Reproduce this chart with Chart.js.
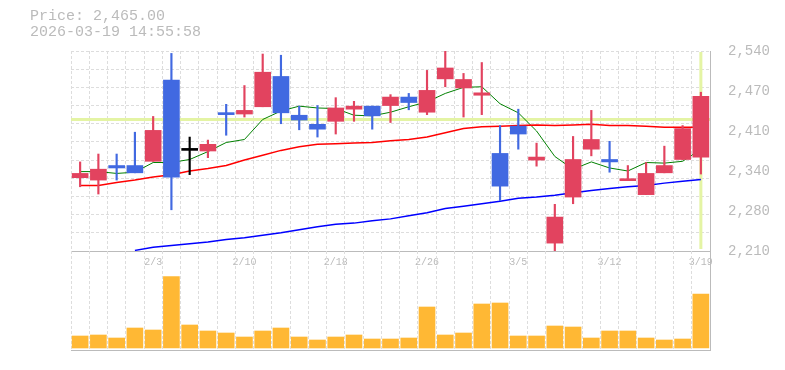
<!DOCTYPE html>
<html>
<head>
<meta charset="utf-8">
<script src="https://cdn.jsdelivr.net/npm/chart.js@4/dist/chart.umd.min.js"></script>
<style>
  body { margin: 0; background: #fff; }
  #wrap { position: relative; width: 785px; height: 370px; }
  #info { position: absolute; left: 30px; top: 9px; font: 15px/16px "Liberation Mono", "DejaVu Sans Mono", monospace; color: #bbb; }
  #price-chart { position: absolute; left: 0; top: 0; }
  #volume-chart { position: absolute; left: 0; top: 251px; }
</style>
</head>
<body>
<div id="wrap">
  <canvas id="price-chart" width="785" height="270"></canvas>
  <canvas id="volume-chart" width="785" height="100"></canvas>
  <div id="info">Price: 2,465.00<br>2026-03-19 14:55:58</div>
</div>
<script>
const dates = ["1/28", "1/29", "1/30", "2/2", "2/3", "2/4", "2/5", "2/6", "2/9", "2/10", "2/12", "2/13",
  "2/16", "2/17", "2/18", "2/19", "2/20", "2/24", "2/25", "2/26", "2/27", "3/2", "3/3", "3/4", "3/5",
  "3/6", "3/9", "3/10", "3/11", "3/12", "3/13", "3/16", "3/17", "3/18", "3/19"]
const tickDates = ["2/3", "2/10", "2/18", "2/26", "3/5", "3/12", "3/19"]

const opens  = [2331, 2327, 2351, 2351, 2358, 2492, 2376, 2375, 2436, 2436, 2448, 2498, 2434, 2419, 2424, 2444, 2449, 2450, 2464, 2439, 2494, 2479, 2467, 2371, 2416, 2360, 2223, 2299, 2378, 2361, 2326, 2303, 2339, 2361, 2365]
const highs  = [2357, 2370, 2370, 2406, 2432, 2536, 2398, 2393, 2452, 2483, 2535, 2533, 2449, 2450, 2463, 2457, 2449, 2468, 2470, 2508, 2540, 2503, 2521, 2417, 2444, 2388, 2287, 2399, 2442, 2391, 2351, 2356, 2383, 2417, 2472]
const lows   = [2316, 2304, 2327, 2339, 2358, 2278, 2336, 2364, 2401, 2431, 2448, 2420, 2410, 2398, 2403, 2424, 2411, 2422, 2443, 2435, 2481, 2431, 2435, 2293, 2378, 2350, 2210, 2288, 2367, 2340, 2326, 2303, 2339, 2361, 2337]
const closes = [2338, 2345, 2347, 2339, 2409, 2332, 2376, 2386, 2435, 2442, 2505, 2438, 2426, 2411, 2446, 2449, 2433, 2464, 2455, 2475, 2512, 2493, 2471, 2317, 2403, 2365, 2266, 2361, 2394, 2357, 2328, 2338, 2351, 2412, 2465]

const ma5  = [2341, 2341, 2338, 2340, 2356, 2356, 2361, 2374, 2389, 2394, 2427, 2441, 2449, 2446, 2445, 2434, 2433, 2439, 2448, 2456, 2470, 2480, 2481, 2453, 2438, 2408, 2366, 2345, 2357, 2347, 2342, 2356, 2355, 2358, 2378]
const ma25 = [2318, 2318, 2323, 2327, 2332, 2336, 2342, 2346, 2351, 2360, 2368, 2376, 2382, 2386, 2387, 2388, 2389, 2392, 2394, 2398, 2405, 2412, 2415, 2416, 2417, 2418, 2417, 2418, 2419, 2417, 2417, 2416, 2414, 2414, 2414]
const ma75 = [null, null, null, 2211, 2216, 2219, 2222, 2225, 2229, 2232, 2236, 2240, 2245, 2250, 2254, 2256, 2260, 2263, 2268, 2273, 2280, 2284, 2288, 2292, 2297, 2299, 2302, 2306, 2310, 2313, 2316, 2318, 2322, 2325, 2328]

const volumes = [12000, 13000, 10000, 20000, 18000, 71300, 23000, 17000, 15000, 11000, 17000, 20000, 11000, 8000, 11000, 13000, 9000, 9000, 10000, 41000,
  13000, 15000, 44000, 45000, 12000, 12000, 22000, 21000, 10000, 17000, 17000, 10000, 8000, 9000, 54000]

// price axis range / crosshair position
const priceMin = 2210
const priceMax = 2540
const crossIndex = 34
const crossPrice = 2427

const UP = '#e2435f'
const DOWN = '#4169e1'
const candleColor = closes.map((c, i) => c > opens[i] ? UP : c < opens[i] ? DOWN : '#000')

const mono = '"Liberation Mono", "DejaVu Sans Mono", monospace'
const dash = [3, 2]

const crosshair = {
    id: 'crosshair',
    beforeDatasetsDraw(chart) {
        const {ctx, chartArea, scales} = chart
        const y = scales.y.getPixelForValue(crossPrice)
        const x = scales.x.getPixelForValue(crossIndex)
        ctx.save()
        ctx.strokeStyle = '#e4f4a4'
        ctx.lineWidth = 3
        ctx.beginPath()
        ctx.moveTo(chartArea.left, y)
        ctx.lineTo(chartArea.right, y)
        ctx.moveTo(x, chartArea.top + 1)
        ctx.lineTo(x, chartArea.bottom - 2)
        ctx.stroke()
        ctx.restore()
    }
}

new Chart(document.querySelector('#price-chart'), {
    type: 'bar',
    data: {
        labels: dates,
        datasets: [
            { type: 'line', data: ma75, borderColor: '#0000ff', borderWidth: 1.5, pointRadius: 0, order: 3 },
            { type: 'line', data: ma25, borderColor: '#ff0000', borderWidth: 1.5, pointRadius: 0, order: 3 },
            { type: 'line', data: ma5, borderColor: '#008000', borderWidth: 1, pointRadius: 0, order: 3 },
            {
                data: lows.map((l, i) => [l, highs[i]]),
                backgroundColor: candleColor, barThickness: 1.5, grouped: false, order: 2
            },
            {
                data: opens.map((o, i) => [o, closes[i]]),
                backgroundColor: candleColor, barThickness: 16, minBarLength: 2, grouped: false, order: 1
            }
        ]
    },
    options: {
        responsive: false,
        animation: false,
        layout: { padding: { left: 71, top: 51, right: 0, bottom: 0 } },
        plugins: { legend: { display: false }, tooltip: { enabled: false } },
        scales: {
            x: {
                grid: { color: '#ddd', drawTicks: false, offset: true },
                border: { color: '#bbb', dash: dash },
                ticks: {
                    autoSkip: false, maxRotation: 0, padding: 5, color: '#bbb',
                    font: { family: mono, size: 10 },
                    callback: (v, i) => tickDates.includes(dates[i]) ? dates[i] : ''
                },
                afterFit: s => { s.height = 19 }
            },
            y: {
                position: 'right', min: priceMin, max: priceMax,
                grid: { display: false },
                border: { color: '#bbb' },
                ticks: {
                    stepSize: 66, padding: 10, color: '#bbb',
                    font: { family: mono, size: 14 },
                    callback: v => (Math.round(v / 10) * 10).toLocaleString('en-US')
                },
                afterFit: s => { s.width = 75 }
            },
            g: {
                position: 'left', min: priceMin, max: priceMax,
                ticks: { display: false, stepSize: 30 },
                grid: { color: '#ddd', drawTicks: false },
                border: { display: false, dash: dash },
                afterFit: s => { s.width = 0 }
            }
        }
    },
    plugins: [crosshair]
})

new Chart(document.querySelector('#volume-chart'), {
    type: 'bar',
    data: {
        labels: dates,
        datasets: [{ data: volumes, backgroundColor: '#ffb834', barThickness: 16 }]
    },
    options: {
        responsive: false,
        animation: false,
        layout: { padding: { left: 71, top: 0, right: 0, bottom: 1 } },
        plugins: { legend: { display: false }, tooltip: { enabled: false } },
        scales: {
            x: {
                grid: { color: '#ddd', drawTicks: false, offset: true },
                border: { color: '#bbb', dash: dash },
                ticks: { display: false },
                afterFit: s => { s.height = 0 }
            },
            y: {
                position: 'right', min: -2000, max: 97000,
                grid: { display: false },
                border: { color: '#bbb' },
                ticks: { display: false },
                afterFit: s => { s.width = 75 }
            }
        }
    }
})
</script>
</body>
</html>
